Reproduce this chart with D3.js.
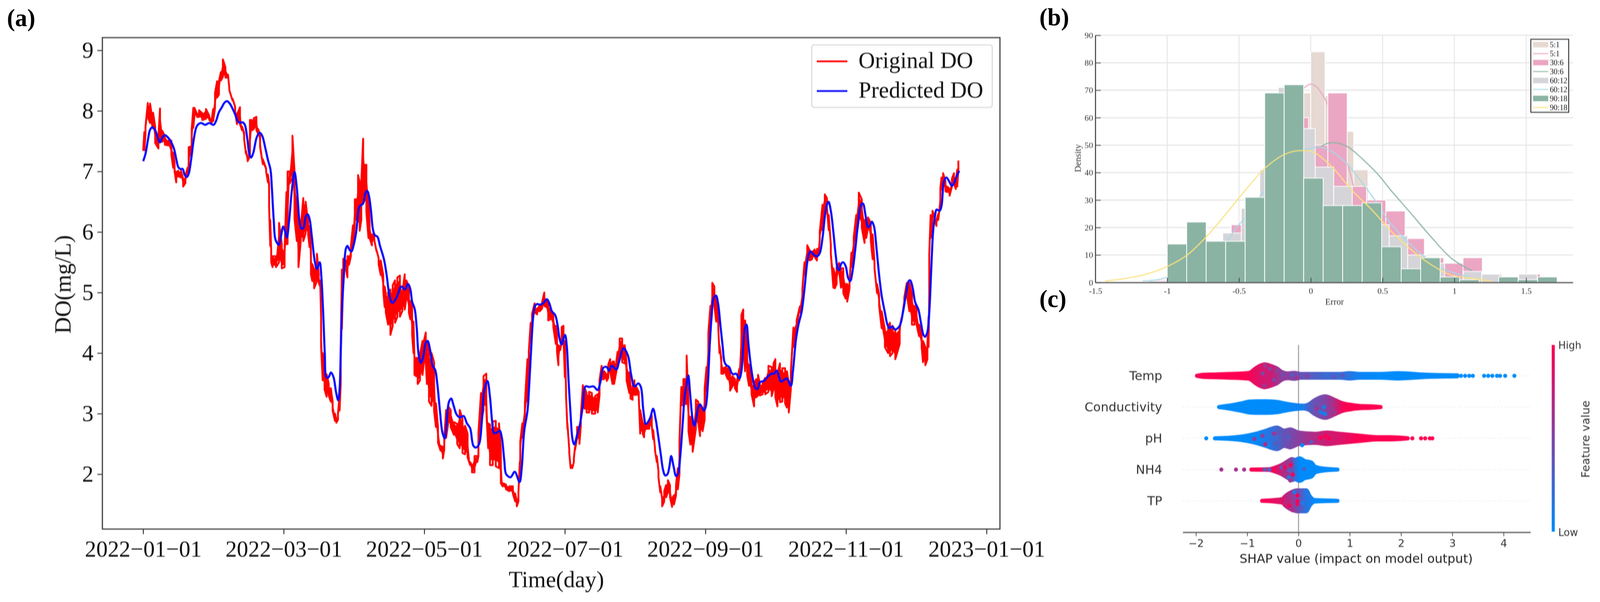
<!DOCTYPE html>
<html>
<head>
<meta charset="utf-8">
<script src="https://cdn.jsdelivr.net/npm/d3@7"></script>
<style>
  html, body { margin: 0; padding: 0; background: #fff; }
  svg { display: block; }
  .soft { filter: blur(0.8px); }
</style>
</head>
<body>
<!-- the photo stops at 4096 px wide, so the 4141 wide drawing is fitted into that -->
<svg id="chart" width="4096" height="1541" viewBox="0 0 4141 1541" preserveAspectRatio="none"></svg>
<script>
// --- Panel (a) data: [day, top of the red band, bottom of the red band] ---
const originalDO = [
  [0,7.34,7.34],[0.5,7.65,7.35],[1,7.74,7.6],[2,8.13,7.9],[3,8.12,7.8],[3.5,7.99,7.82],[4.3,7.97,7.71],[5.2,7.74,7.47],[6.6,7.59,7.38],[7.3,8.04,7.5],
  [8.3,7.67,7.49],[9.4,7.58,7.44],[11,7.51,7.43],[12.2,7.51,7.27],[13,7.31,7.06],[13.6,7.14,7],[14.3,6.99,6.82],[15.2,7.01,6.92],[16.4,7.01,6.9],[17.3,6.88,6.75],
  [18.3,6.93,6.81],[19.2,7.06,6.91],[19.7,7.4,7.06],[20.5,7.41,7.27],[21,7.7,7.3],[21.7,8.05,7.72],[22.2,8.05,7.92],[23.3,7.95,7.9],[24.2,8.01,7.9],[25.6,7.96,7.85],
  [27.2,8.03,7.87],[28.6,7.92,7.85],[29.7,7.87,7.81],[30.3,8.03,7.83],[31.1,8.3,8.05],[32,8.49,8.22],[32.8,8.49,8.27],[33.6,8.64,8.5],[34.5,8.85,8.56],[35.6,8.72,8.55],
  [36.7,8.6,8.55],[37.3,8.37,8.34],[38.7,8.2,8.17],[39.8,8.07,7.98],[40.6,7.94,7.78],[41.9,8.06,7.78],[42.8,7.74,7.68],[43.7,7.64,7.53],[44.5,7.34,7.29],[45.2,7.2,7.17],
  [46.2,7.85,7.25],[47,7.85,7.68],[47.9,7.88,7.7],[49,7.9,7.68],[49.8,7.7,7.62],[50.6,7.59,7.4],[51.8,7.2,7.12],[53.2,7.05,7],[54,6.95,6.82],[54.5,6.8,6.41],
  [55,6.2,5.77],[55.4,5.7,5.5],[56,5.6,5.42],[57.5,5.6,5.42],[58.8,6.15,5.5],[60,5.8,5.4],[61.2,5.7,5.42],[62,6.66,5.8],[62.5,7,5.8],[63.4,7,6.8],
  [64.6,7.59,6.9],[65.5,7,6.22],[66.5,6.58,5.85],[67.2,6.2,5.42],[68.2,6.07,5.85],[69.3,6.56,5.85],[70.3,6.5,5.98],[71.4,6.15,5.96],[72,6.1,5.75],[72.6,5.7,5.3],
  [73.2,5.47,5.19],[74,5.38,5.07],[75.2,5.64,5.19],[76,5.31,5.16],[76.6,5.2,5.1],[77,4.6,4.1],[77.7,4,3.55],[78.5,3.75,3.4],[79.4,3.65,3.28],[80.3,3.5,3.3],
  [81.2,3.42,3.2],[82,3.2,3.05],[83,3,2.88],[83.6,2.9,2.85],[84.3,3,2.9],[85,3.3,3.05],[85.5,4.1,3.5],[86,5.38,4.4],[86.6,5.56,5.3],[87.7,5.53,5.4],
  [88.4,5.6,5.25],[89.1,5.6,5.46],[89.9,5.77,5.6],[90.8,6.11,5.75],[91.6,6.54,6.13],[92.3,6.54,6.2],[93,6.94,6.17],[93.7,6.82,6.02],[94.4,6.82,6.2],[95.2,7.54,6.47],
  [96,7.11,6.54],[96.6,7.11,6.33],[97.5,6.65,5.9],[98,6.13,5.9],[99,5.96,5.78],[100,5.96,5.87],[101,5.7,5.68],[101.9,5.57,5.47],[102.8,5.53,5.29],[103.9,5.29,5.03],
  [104.5,5.1,4.76],[105,4.99,4.67],[106,5,4.47],[107,5.05,4.3],[108,5.12,4.45],[109,5.2,4.5],[110,5.25,4.6],[111.1,5.28,4.6],[112.2,5,4.7],[113.2,5.3,4.72],
  [113.9,5.2,4.9],[115,5.1,4.67],[115.6,4.86,4.56],[116.4,4.8,4.3],[117,4.52,4],[117.4,3.92,3.64],[118.1,3.92,3.62],[118.8,3.92,3.49],[119.8,3.98,3.55],[120.9,4.2,3.64],
  [121.5,4.2,3.85],[122.3,4.34,3.85],[122.8,4.2,3.49],[123.7,4.02,3.2],[124.8,4,3.13],[125.9,3.85,3.05],[126.7,3.17,2.78],[127.6,2.78,2.52],[128.7,2.47,2.39],[129.7,2.45,2.26],
  [130.3,2.58,2.41],[131.1,3.06,2.6],[132,3.12,2.84],[133.1,3.06,2.78],[134.5,2.86,2.65],[135.9,2.83,2.5],[137,3.06,2.43],[138.2,2.91,2.35],[139.3,2.8,2.33],[140.4,2.67,2.28],
  [141.5,2.2,2.15],[142.3,2.15,2.03],[143.4,2.3,2.03],[144.6,2.3,2.2],[145.1,2.69,2.3],[146.2,3.34,2.84],[147.3,3.62,3.06],[148.5,3.66,3.06],[149.3,2.84,2.43],[150.1,2.82,2.15],
  [151.3,2.87,2.15],[152.6,2.88,2.13],[154,2.84,2.1],[154.8,2.4,1.85],[155.6,1.85,1.8],[157,1.83,1.75],[158.5,1.8,1.72],[160,1.8,1.68],[161,1.68,1.55],[161.7,1.55,1.47],
  [162.4,1.7,1.55],[163,2.2,1.9],[163.2,2.54,2.3],[164.1,2.84,2.6],[165.2,3.18,2.9],[166.3,3.9,3.2],[166.9,4.03,3.8],[167.7,4.5,4.2],[168.3,4.65,4.4],[169.4,4.82,4.67],
  [170.5,4.73,4.64],[171.6,4.78,4.69],[172.7,4.85,4.74],[173.6,5,4.78],[174.4,4.88,4.76],[175.3,4.82,4.54],[176.3,4.73,4.56],[177.5,4.63,4.43],[178.6,4.45,4.15],[179.1,4.28,4.02],
  [179.7,4.13,3.8],[180.5,4.1,4.05],[181.1,4.43,4.2],[181.9,4.45,4.24],[182.5,4.2,3.6],[183,3.4,3.3],[183.6,2.84,2.75],[184.4,2.41,2.35],[185,2.15,2.1],[185.7,2.14,2.1],
  [186.4,2.26,2.2],[186.9,2.45,2.4],[187.8,2.78,2.6],[188.8,2.78,2.5],[189.4,2.97,2.8],[190.3,3.47,3.12],[191.1,3.42,3.08],[191.9,3.34,3.02],[193,3.36,3.02],[194.2,3.34,3],
  [195.6,3.29,3],[196.7,3.32,3.02],[197.5,3.55,3.3],[198.4,3.79,3.57],[199.5,3.7,3.57],[200.6,3.64,3.54],[201.3,3.81,3.59],[202.1,3.9,3.7],[203.1,3.86,3.49],[203.8,3.86,3.49],
  [204.8,3.87,3.7],[205.3,4.02,3.77],[206.2,4.24,4],[207.3,4.24,3.85],[208.4,4.13,3.83],[209.2,3.85,3.55],[210.4,3.68,3.34],[210.9,3.46,3.25],[211.8,3.46,3.23],[212.6,3.55,3.31],
  [213.4,3.44,3.31],[214.5,3.36,3.25],[215.1,3.06,2.67],[216.2,2.84,2.67],[216.8,2.84,2.61],[217.9,2.82,2.75],[219,2.88,2.75],[220.1,2.97,2.8],[220.7,2.73,2.58],[221.5,2.43,2.39],
  [222.3,2.3,2.2],[223,2.05,1.95],[223.8,1.8,1.7],[224.6,1.6,1.47],[225.5,1.72,1.55],[226.3,1.82,1.62],[227.1,1.9,1.7],[228,1.82,1.62],[228.9,1.6,1.46],[229.7,1.65,1.5],
  [230.6,1.82,1.65],[231.4,2.1,1.75],[232.1,2.56,2],[232.9,3.44,3.14],[233.8,3.57,3.14],[234.6,3.57,3.16],[235.2,3.96,3.16],[236,3.16,2.71],[236.8,2.95,2.49],[237.8,2.75,2.37],
  [239.2,3.23,2.75],[240.2,3.2,2.86],[241,3.16,2.63],[242.1,3.01,2.71],[243,3.42,2.9],[243.8,3.77,3.38],[244.6,4.34,3.92],[245.5,4.78,4.34],[246.3,5.16,4.78],[247.2,5.1,4.78],
  [248,4.93,4.52],[248.9,4.56,4.41],[249.4,4.13,4],[250.2,3.92,3.66],[251.1,3.75,3.66],[252.2,3.77,3.64],[253,3.75,3.57],[254,3.66,3.38],[255,3.62,3.45],[256.1,3.57,3.42],
  [257,3.55,3.36],[258,3.74,3.55],[258.9,4.63,4.13],[259.7,4.72,4.17],[260.5,4.54,3.7],[261.4,4.09,3.64],[262.2,3.81,3.46],[263.3,3.53,3.32],[264.4,3.49,3.12],[265.3,3.57,3.27],
  [266.1,3.64,3.3],[266.9,3.49,3.3],[268.1,3.51,3.32],[269.2,3.59,3.32],[270.6,3.79,3.36],[272,3.77,3.29],[272.8,3.83,3.4],[273.6,3.9,3.27],[274.5,3.66,3.12],[275.6,3.83,3.19],
  [276.6,3.75,3.2],[277.8,3.75,3.17],[278.6,3.7,3.1],[279.4,3.5,3.02],[280.3,3.7,3.4],[281.4,4.42,4.1],[282.8,4.54,4.3],[284.2,4.77,4.67],[285.3,5.07,4.9],[286.2,5.5,5.29],
  [287.4,5.78,5.57],[288.4,5.7,5.53],[289.5,5.66,5.55],[290.6,5.71,5.59],[291.6,5.72,5.53],[292.3,5.72,5.64],[292.8,6,5.87],[294,6.45,6.03],[295,6.62,6.45],[295.9,6.56,6.41],
  [296.7,6.28,6.03],[297.6,5.79,5.64],[298.7,5.4,5.08],[299.3,5.31,5.07],[300.1,5.42,5.14],[301.2,5.49,5.36],[302,5.4,5.08],[303,5.4,4.99],[304,5.14,4.9],[304.7,5.14,4.85],
  [305.7,5.17,5.07],[306.5,5.66,5.42],[307.5,5.91,5.68],[308.6,6.28,5.92],[309.7,6.65,6.2],[311,6.54,6.07],[312.2,6.2,5.82],[312.9,6.07,5.9],[313.7,6.24,6.07],[314.9,6.15,5.85],
  [315.7,5.96,5.55],[316.5,5.51,5.4],[317.6,5.14,4.99],[318.5,4.97,4.78],[319.6,4.69,4.41],[321,4.39,4.1],[322.4,4.43,4.0],[323.2,4.5,3.95],[324.3,4.45,4.0],[325.5,4.37,3.9],
  [327.4,4.43,4.15],[328.2,4.58,4.54],[329.4,4.92,4.85],[330.5,5.16,4.97],[331.6,5.16,4.69],[332.7,4.97,4.47],[333.8,4.78,4.47],[334.7,4.73,4.47],[335.8,4.47,4.28],[336.9,4.35,4.1],
  [337.5,4.2,3.85],[338.5,4.1,3.8],[339.4,4.15,3.9],[339.9,4.6,4.1],[340.2,5.64,5],[340.8,6.28,5.9],[341.6,6.35,6.24],[342.6,6.24,6.2],[343.3,6.19,6.1],[344.1,6.3,6.2],
  [345,6.72,6.5],[345.5,6.9,6.7],[346.2,6.97,6.77],[347.2,6.84,6.67],[348,6.75,6.66],[349,6.71,6.6],[350,6.88,6.75],[350.9,6.97,6.8],[351.7,6.82,6.71],[352.3,7.03,6.75],
  [352.8,7.18,7.03]
];

const predictedDO = [
  [0,7.17],[1,7.29],[2.1,7.53],[3,7.69],[4,7.73],[5.2,7.68],[6.3,7.56],[7.3,7.48],[8.3,7.56],[9.4,7.6],[10.5,7.57],[11.9,7.5],[13.3,7.38],[14.4,7.19],[15.2,7.07],[16.1,7.04],
  [17.1,7.04],[18,6.94],[18.9,6.91],[19.7,6.96],[20.8,7.21],[21.9,7.53],[23,7.73],[23.9,7.78],[25.1,7.8],[26.8,7.77],[28.6,7.8],[30.5,7.77],[31.5,7.83],[32.8,7.98],[33.9,8.05],
  [35.3,8.14],[36.3,8.16],[37.5,8.12],[39.5,7.97],[41.4,7.81],[43.1,7.81],[44,7.77],[45.1,7.53],[45.9,7.3],[46.7,7.23],[47.6,7.3],[49.2,7.57],[50.4,7.64],[51.5,7.59],[52.9,7.38],
  [54,7.19],[55.1,7.03],[55.7,6.73],[56.5,6.2],[57.3,5.87],[58.7,5.79],[59.6,5.92],[60.6,6.09],[61.5,6],[62.2,5.91],[63.2,6.2],[64.3,6.67],[65.5,6.99],[66.5,6.73],[67.6,6.2],
  [68.4,6.06],[69.3,6.06],[70.4,6.26],[71.2,6.29],[72.1,6.2],[72.9,5.96],[74.3,5.51],[75.2,5.39],[76.4,5.5],[77.1,5.27],[77.9,4.67],[78.6,4],[79.3,3.6],[80.2,3.6],[81.3,3.68],
  [82.4,3.6],[83.5,3.35],[84.4,3.22],[85,3.4],[85.5,4],[86,4.67],[86.9,5.31],[87.7,5.72],[88.4,5.77],[89.4,5.7],[90.2,5.68],[91,5.77],[92.2,6],[93.3,6.39],[93.8,6.43],[95.2,6.47],
  [96.1,6.63],[96.9,6.68],[97.7,6.6],[98.6,6.35],[99.4,6.05],[100.2,5.95],[101.4,5.92],[102.5,5.77],[104.2,5.55],[105.3,5.31],[106.7,4.93],[107.8,4.83],[109.7,4.92],[111.7,5.1],
  [113.3,5.05],[114.6,5.14],[115.6,5.06],[116.4,4.85],[117.5,4.73],[118.4,4.41],[119.2,3.98],[120.2,3.84],[121.2,3.94],[122.3,4.17],[123.1,4.2],[124.2,4.05],[125.3,3.79],[126.4,3.72],
  [127.3,3.49],[128.4,3.06],[129.5,2.69],[130.5,2.59],[131.2,2.78],[132.3,3.19],[133.3,3.25],[134.3,3.14],[135.6,2.99],[137,2.94],[138.7,2.96],[140.1,2.84],[141.5,2.76],[142.9,2.47],
  [144,2.44],[145.4,2.5],[146.5,2.84],[147.6,3.38],[149,3.54],[150.1,3.27],[151,2.88],[151.8,2.68],[153.2,2.69],[154.3,2.72],[155.2,2.61],[156.3,2.22],[157.1,2],[159,1.95],[160.8,2.04],
  [162.9,1.87],[163.8,2.09],[164.9,2.71],[166.3,3.04],[167.1,3.49],[168,4.13],[168.8,4.6],[169.6,4.78],[170.5,4.81],[171.6,4.8],[173.3,4.83],[174.7,4.89],[175.8,4.82],[176.9,4.69],
  [178.3,4.63],[179.4,4.45],[180.2,4.24],[181.1,4.14],[181.9,4.24],[182.6,4.3],[183.3,4.13],[184.1,3.55],[185,2.97],[185.8,2.58],[186.6,2.49],[187.8,2.65],[188.9,2.8],[190.3,3.14],
  [191.4,3.45],[193.1,3.44],[194.9,3.45],[196.7,3.39],[197.8,3.51],[199.2,3.76],[200.6,3.77],[201.6,3.71],[202.8,3.79],[204.8,3.73],[205.9,3.85],[207.9,4.08],[209.8,3.96],[211.2,3.64],
  [212.6,3.45],[214.3,3.5],[215.4,3.44],[216.5,3.04],[217.6,2.83],[219.3,2.92],[220.7,3.08],[221.8,2.91],[222.9,2.63],[224,2.33],[225,2.07],[225.9,1.98],[226.9,2.0],[227.8,2.14],[228.5,2.3],
  [229.6,2.12],[230.6,1.97],[231.6,2.02],[232.4,2.28],[233.5,2.84],[234.3,3.27],[235.2,3.49],[235.9,3.63],[236.8,3.29],[237.7,2.93],[238.5,2.8],[239.3,2.91],[240.2,3.1],[241,3.15],[241.9,3.1],
  [242.7,3.05],[243.5,3.12],[244.4,3.49],[245.2,4.13],[246,4.6],[246.9,4.91],[247.9,4.95],[248.8,4.82],[249.9,4.43],[250.8,4.11],[251.6,3.85],[252.4,3.8],[253.6,3.77],[254.7,3.67],[255.5,3.65],
  [256.6,3.66],[258,3.58],[258.9,3.7],[259.7,4.13],[260.5,4.43],[261.1,4.47],[261.9,4.17],[262.8,3.85],[263.9,3.57],[265,3.42],[265.9,3.41],[266.9,3.52],[268.6,3.54],[270.3,3.61],[272,3.66],
  [273,3.66],[274.2,3.71],[275.3,3.59],[276.1,3.53],[278.6,3.58],[280.3,3.46],[281.2,3.7],[282.5,4.22],[283.6,4.47],[285,4.69],[286.2,5.06],[287.3,5.47],[288.1,5.64],[288.9,5.68],[290.3,5.62],
  [291.7,5.6],[292.8,5.65],[294,5.9],[295.1,6.28],[295.9,6.45],[296.6,6.5],[297.6,6.35],[298.7,6],[299.8,5.59],[300.6,5.39],[301.2,5.37],[302,5.47],[302.9,5.5],[304,5.44],[305.1,5.24],[306,5.19],
  [307.1,5.38],[308.2,5.72],[309.3,6.11],[310.7,6.45],[311.5,6.47],[312.6,6.28],[313.7,6.08],[314.6,6.11],[315.4,6.17],[316.3,6.09],[317.4,5.72],[318.5,5.29],[319.6,4.95],[321,4.67],[322.1,4.47],
  [323,4.41],[324.1,4.44],[325.5,4.39],[327.4,4.45],[328.8,4.67],[330.2,4.99],[331.3,5.19],[332,5.2],[333,5.08],[334.1,4.84],[335.5,4.72],[336.6,4.5],[337.7,4.3],[338.4,4.27],[339.4,4.35],[340.2,4.67],
  [341.1,5.42],[341.9,6.03],[342.6,6.24],[343.4,6.37],[344.7,6.35],[345.5,6.43],[346.6,6.84],[347.6,6.9],[348.9,6.83],[350,6.76],[351.1,6.82],[351.9,6.91],[353.2,7.01]
];

const dateTickDays = [0, 60.83, 121.67, 182.5, 243.33, 304.17, 365];
const dateTickLabels = ["2022\u221201\u221201", "2022\u221203\u221201", "2022\u221205\u221201", "2022\u221207\u221201", "2022\u221209\u221201", "2022\u221211\u221201", "2023\u221201\u221201"];
const doTicks = [2, 3, 4, 5, 6, 7, 8, 9];
const lineLegend = ["Original DO", "Predicted DO"];

// --- Panel (b) data ---
const greenStart = -1, greenStep = 0.1358;
const greenCounts = [14, 22, 15, 15, 31, 69, 72, 38, 28, 28, 29, 13, 5, 9, 2, 1, 0, 2, 1, 2];
const grayStart = -1.128, grayStep = 0.1288;
const grayCounts = [0.6, 3, 10, 8, 18, 27, 41, 71, 56, 42, 35, 25, 21, 17, 10, 7, 1, 4, 3, 0, 3];
const pinkStart = -1.0916, pinkStep = 0.1345;
const pinkCounts = [1, 5, 10, 12, 21, 25, 40, 60, 50, 69, 35, 30, 26, 16, 9, 7, 9, 3, 0, 3];
const beigeStart = -0.1, beigeStep = 0.0997;
const beigeCounts = [69, 84, 68, 55, 41];

const curve5x = [-0.1, -0.043, -0.002, 0.038, 0.083, 0.123, 0.2, 0.267, 0.298];
const curve5y = [68, 71, 72.2, 71.3, 68.2, 64.2, 52, 41.2, 35];
const curve30x = [0.069, 0.11, 0.155, 0.244, 0.308, 0.379, 0.469, 0.559, 0.695, 0.831, 0.979, 1.128];
const curve30y = [49.5, 50.5, 50.9, 49.8, 47.4, 44, 39.3, 33.5, 25.3, 17, 8.8, 4.1];
const curve60x = [-1.17, -1.02, -0.59, -0.519, -0.46, -0.352, -0.322, -0.047, 0.001, 0.065, 0.155, 0.244, 0.335, 0.397, 0.456, 0.559, 0.794, 0.905, 1.103];
const curve60y = [0.6, 1.6, 15.1, 19.9, 23.5, 31.5, 33.4, 48, 48.9, 49.3, 47.4, 43.6, 37.9, 33.6, 29.3, 21.3, 9.2, 5.2, 2];
const curve90x = [-1.432, -1.296, -1.147, -1, -0.863, -0.73, -0.593, -0.457, -0.321, -0.185, -0.084, 0.015, 0.151, 0.287, 0.423, 0.559, 0.695, 0.831, 0.979, 1.103, 1.256];
const curve90y = [0.5, 1.4, 3, 5.8, 9.9, 16.5, 24.8, 33.5, 41.5, 46.6, 48, 47.5, 41.9, 33.5, 26.6, 18.7, 12.1, 6.7, 2.7, 1.6, 0.5];

const errorTicks = [-1.5, -1, -0.5, 0, 0.5, 1, 1.5];
const errorLabels = ["-1.5", "-1", "-0.5", "0", "0.5", "1", "1.5"];
const densityTicks = [0, 10, 20, 30, 40, 50, 60, 70, 80, 90];
const histLegend = ["5:1", "5:1", "30:6", "30:6", "60:12", "60:12", "90:18", "90:18"];

// --- Panel (c) data: SHAP value, half thickness of the swarm (share of a row), feature mix (0 low, 1 high) ---
const features = ["Temp", "Conductivity", "pH", "NH4", "TP"];
const shapTicks = [-2, -1, 0, 1, 2, 3, 4];

const tempShap = [-1.98, -1.84, -1.59, -1.34, -1.09, -0.96, -0.83, -0.73, -0.66, -0.53, -0.41, -0.33, -0.21, -0.08, 0.05, 0.4, 0.8, 1, 1.2, 1.58, 1.95, 2.5, 3.1];
const tempSpread = [0.06, 0.1, 0.11, 0.125, 0.14, 0.16, 0.31, 0.4, 0.43, 0.375, 0.29, 0.19, 0.14, 0.16, 0.125, 0.125, 0.125, 0.15, 0.125, 0.125, 0.15, 0.1, 0.08];
const tempMix = [1, 1, 1, 1, 1, 0.97, 0.9, 0.85, 0.82, 0.8, 0.65, 0.55, 0.55, 0.5, 0.4, 0.28, 0.22, 0.15, 0.05, 0, 0, 0, 0];

const condShap = [-1.55, -1.3, -1.1, -0.95, -0.8, -0.62, -0.4, -0.25, -0.05, 0.1, 0.2, 0.32, 0.52, 0.7, 0.85, 1, 1.2, 1.4, 1.6];
const condSpread = [0.06, 0.125, 0.19, 0.24, 0.25, 0.25, 0.225, 0.175, 0.125, 0.11, 0.15, 0.29, 0.41, 0.3, 0.19, 0.14, 0.1, 0.09, 0.06];
const condMix = [0, 0, 0, 0, 0, 0, 0, 0, 0.05, 0.1, 0.3, 0.42, 0.5, 0.7, 0.95, 1, 1, 1, 1];

const phShap = [-1.63, -1.34, -1.09, -0.83, -0.63, -0.42, -0.28, -0.16, 0, 0.32, 0.55, 0.8, 1.18, 1.55, 1.8, 2.13];
const phSpread = [0.06, 0.085, 0.125, 0.21, 0.31, 0.41, 0.31, 0.35, 0.25, 0.21, 0.25, 0.21, 0.15, 0.1, 0.1, 0.06];
const phMix = [0, 0, 0, 0.02, 0.12, 0.25, 0.4, 0.45, 0.55, 0.7, 0.8, 0.85, 1, 1, 1, 1];

const nh4Shap = [-0.92, -0.58, -0.46, -0.33, -0.2, -0.13, -0.07, 0.02, 0.12, 0.25, 0.32, 0.47, 0.76];
const nh4Spread = [0.06, 0.075, 0.125, 0.21, 0.34, 0.4, 0.375, 0.425, 0.34, 0.29, 0.16, 0.1, 0.06];
const nh4Mix = [1, 0.85, 0.9, 0.75, 0.6, 0.5, 0.2, 0, 0, 0, 0, 0, 0];

const tpShap = [-0.71, -0.46, -0.31, -0.26, -0.13, -0.02, 0.15, 0.22, 0.31, 0.76];
const tpSpread = [0.06, 0.09, 0.125, 0.21, 0.35, 0.4, 0.4, 0.21, 0.09, 0.06];
const tpMix = [1, 0.9, 0.85, 0.75, 0.6, 0.45, 0.15, 0.1, 0, 0];

// single dots that stand out of the swarm: feature index, SHAP value, offset (share of a row), mix
const swarmDots = [
  [0,3.17,0,0],[0,3.25,0,0],[0,3.33,0,0],[0,3.4,0,0],[0,3.62,0,0],[0,3.7,0,0],[0,3.78,0,0],[0,3.87,0,0],[0,3.93,0,0],[0,4.03,0,0],[0,4.21,0,0],
  [0,-0.65,-0.325,0.6],[0,-0.56,-0.22,0.55],[0,-0.7,-0.075,0.5],[0,-0.48,0.13,0.5],[0,-0.42,-0.16,0.55],[0,-0.67,0.32,0.6],[0,-0.31,-0.03,0.45],[0,-0.12,-0.03,0.35],[0,-0.03,0.07,0.65],[0,0.17,0.01,0.55],[0,0.55,-0.01,0.2],[0,0.7,0.03,0.4],[0,0.87,-0.01,0.4],
  [1,0.42,0.15,0.2],[1,0.5,0,0.1],[1,0.52,0.22,0.1],[1,0.65,0.05,0.6],[1,0.46,0.18,0.1],[1,0.35,0.05,0.6],[1,0.7,0.17,0.6],
  [2,-1.8,0,0],[2,2.22,0,1],[2,2.39,0,1],[2,2.47,0,1],[2,2.56,0,1],[2,2.61,0,1],
  [2,-0.86,0.02,0.6],[2,-0.7,-0.08,0.6],[2,-0.48,-0.15,0.65],[2,-0.41,-0.17,0.4],[2,-0.44,0.15,0.35],[2,-0.58,0.23,0.05],[2,-0.65,0.19,0.75],[2,-0.17,0.29,0.5],[2,0.07,0.22,0],[2,0.25,0.12,0.35],[2,0.43,-0.02,1],[2,0.52,-0.08,1],[2,0.59,0,1],[2,-0.2,-0.04,0.3],
  [3,-1.505,0,0.65],[3,-1.22,0,0.65],[3,-1.06,0,0.65],[3,-0.33,-0.07,0.35],[3,-0.27,-0.07,1],[3,-0.15,-0.15,1],[3,-0.11,0.16,1],[3,-0.19,0.25,0.1],[3,-0.18,0.02,0.3],[3,-0.16,0.35,0.6],[3,0.11,-0.02,0.3],[3,-0.66,0,0.4],[3,-0.57,0,0.3],[3,-0.48,0,1],[3,-0.78,0,1],[3,-0.91,0,1],
  [4,-0.02,-0.17,1],[4,-0.02,0.01,1],[4,-0.18,0.15,1],[4,-0.12,0.3,0.7],[4,-0.02,0.11,0.9],[4,-0.19,0,0.75],[4,0.08,0.07,0.1],[4,-0.08,-0.28,0.1]
];

const svg = d3.select("#chart");
const serif = "'Liberation Serif', 'Times New Roman', serif";
const sans = "'DejaVu Sans', sans-serif";

function panelLetter(text, x, y) {
    svg.append("text").attr("x", x).attr("y", y)
        .attr("font-family", serif).attr("font-weight", "bold").attr("font-size", 63)
        .text(text);
}
panelLetter("(a)", 18, 67);
panelLetter("(b)", 2690, 65);
panelLetter("(c)", 2690, 786);

// --- Panel (a): time series ---
const gA = svg.append("g").attr("class", "soft");
const xA = d3.scaleLinear().domain([-17.64, 370.8]).range([265, 2588]);
const yA = d3.scaleLinear().domain([1.094, 9.21]).range([1354.3, 96.3]);

// solid core of the noisy band, the line itself runs over it from top to bottom
const redCore = d3.area()
    .x(d => xA(d[0]))
    .y0(d => yA(d[2] + (d[1] - d[2]) * 0.12))
    .y1(d => yA(d[1] - (d[1] - d[2]) * 0.12));

gA.append("path").datum(originalDO)
    .attr("d", redCore)
    .attr("fill", "#ff0000");

const redPoints = originalDO.flatMap((d, i) => i % 2 ? [[d[0], d[1]], [d[0], d[2]]] : [[d[0], d[2]], [d[0], d[1]]]);

gA.append("path").datum(redPoints)
    .attr("d", d3.line().x(d => xA(d[0])).y(d => yA(d[1])))
    .attr("fill", "none")
    .attr("stroke", "#ff0000")
    .attr("stroke-width", 4.8)
    .attr("stroke-linejoin", "round");

const blueLine = d3.line()
    .x(d => xA(d[0]))
    .y(d => yA(d[1]))
    .curve(d3.curveCatmullRom.alpha(0.5));

gA.append("path").datum(predictedDO)
    .attr("d", blueLine)
    .attr("fill", "none")
    .attr("stroke", "#0a0aff")
    .attr("stroke-width", 5.4);

gA.append("rect")
    .attr("x", 265).attr("y", 96.3).attr("width", 2323).attr("height", 1258)
    .attr("fill", "none").attr("stroke", "#333").attr("stroke-width", 2.8);

const axisA = gA.append("g").attr("transform", "translate(0,1354.3)")
    .call(d3.axisBottom(xA).tickValues(dateTickDays).tickFormat((d, i) => dateTickLabels[i]).tickSize(13).tickPadding(16));
const axisAY = gA.append("g").attr("transform", "translate(265,0)")
    .call(d3.axisLeft(yA).tickValues(doTicks).tickFormat(d3.format("d")).tickSize(13).tickPadding(10));
[axisA, axisAY].forEach(a => {
    a.select(".domain").remove();
    a.selectAll("line").attr("stroke", "#333").attr("stroke-width", 2.5);
    a.selectAll("text").attr("font-family", serif).attr("font-size", 59).attr("fill", "#111");
});

gA.append("text").attr("transform", "translate(183,728) rotate(-90)")
    .attr("text-anchor", "middle").attr("font-family", serif).attr("font-size", 59).attr("fill", "#111")
    .text("DO(mg/L)");
gA.append("text").attr("x", 1440).attr("y", 1503)
    .attr("text-anchor", "middle").attr("font-family", serif).attr("font-size", 59).attr("fill", "#111")
    .text("Time(day)");

const legA = gA.append("g");
legA.append("rect").attr("x", 2101).attr("y", 115).attr("width", 467).attr("height", 160).attr("rx", 6)
    .attr("fill", "#fff").attr("stroke", "#d6d6d6").attr("stroke-width", 2.5);
lineLegend.forEach((name, i) => {
    const ly = 157 + i * 76;
    legA.append("line").attr("x1", 2114).attr("x2", 2193).attr("y1", ly).attr("y2", ly)
        .attr("stroke", i ? "#0a0aff" : "#ff0000").attr("stroke-width", 4.5);
    legA.append("text").attr("x", 2222).attr("y", ly + 17)
        .attr("font-family", serif).attr("font-size", 59).attr("fill", "#111").text(name);
});

// --- Panel (b): error histogram ---
const gB = svg.append("g").attr("class", "soft");
const xB = d3.scaleLinear().domain([-1.5, 1.826]).range([2835, 4071]);
const yB = d3.scaleLinear().domain([0, 90]).range([723, 90.3]);

gB.append("g").selectAll("line").data(densityTicks.slice(1)).enter().append("line")
    .attr("x1", 2835).attr("x2", 4071).attr("y1", d => yB(d)).attr("y2", d => yB(d))
    .attr("stroke", "#e4e4e4").attr("stroke-width", 2.6);
gB.append("g").selectAll("line").data(errorTicks.slice(1)).enter().append("line")
    .attr("x1", d => xB(d)).attr("x2", d => xB(d)).attr("y1", 90.3).attr("y2", 723)
    .attr("stroke", "#e2e2e2").attr("stroke-width", 2);

function drawBars(start, step, counts, color) {
    gB.append("g").selectAll("rect").data(counts).enter().append("rect")
        .attr("x", (d, i) => xB(start + i * step))
        .attr("y", d => yB(d))
        .attr("width", xB(step) - xB(0))
        .attr("height", d => yB(0) - yB(d))
        .attr("fill", color)
        .attr("stroke", d => d ? "#fff" : "none")
        .attr("stroke-width", 2);
}

function drawCurve(xs, ys, color) {
    const pts = xs.map((x, i) => [x, ys[i]]);
    gB.append("path").datum(pts)
        .attr("d", d3.line().x(d => xB(d[0])).y(d => yB(d[1])).curve(d3.curveCatmullRom.alpha(0.5)))
        .attr("fill", "none").attr("stroke", color).attr("stroke-width", 2.8);
}

const beigeColor = "#e6d8d2", pinkColor = "#eba6c3", grayColor = "#d5d5d9", greenColor = "#8ab3a3";
const curvePink = "#eba6c3", curveGreen = "#8ab3a3", curveBlue = "#a8d9e5", curveYellow = "#fbe27c";

drawBars(beigeStart, beigeStep, beigeCounts, beigeColor);
drawCurve(curve5x, curve5y, curvePink);
drawBars(pinkStart, pinkStep, pinkCounts, pinkColor);
drawCurve(curve30x, curve30y, curveGreen);
drawBars(grayStart, grayStep, grayCounts, grayColor);
drawCurve(curve60x, curve60y, curveBlue);
drawBars(greenStart, greenStep, greenCounts, greenColor);
drawCurve(curve90x, curve90y, curveYellow);

const axisB = gB.append("g").attr("transform", "translate(0,723)")
    .call(d3.axisBottom(xB).tickValues(errorTicks).tickFormat((d, i) => errorLabels[i]).tickSizeInner(-12).tickSizeOuter(0).tickPadding(13));
const axisBY = gB.append("g").attr("transform", "translate(2835,0)")
    .call(d3.axisLeft(yB).tickValues(densityTicks).tickSizeInner(-14).tickSizeOuter(0).tickPadding(6));
[axisB, axisBY].forEach(a => {
    a.select(".domain").attr("stroke", "#555").attr("stroke-width", 3);
    a.selectAll("line").attr("stroke", "#445").attr("stroke-width", 2);
    a.selectAll("text").attr("font-family", serif).attr("font-size", 22).attr("fill", "#333");
});

gB.append("text").attr("x", 3454).attr("y", 780).attr("text-anchor", "middle")
    .attr("font-family", serif).attr("font-size", 23).attr("fill", "#333").text("Error");
gB.append("text").attr("transform", "translate(2797,405) rotate(-90)").attr("text-anchor", "middle")
    .attr("font-family", serif).attr("font-size", 23).attr("fill", "#333").text("Density");

const legB = gB.append("g");
legB.append("rect").attr("x", 3962).attr("y", 100.5).attr("width", 98).attr("height", 187)
    .attr("fill", "#fff").attr("stroke", "#222").attr("stroke-width", 2.2);
const histSwatches = [beigeColor, curvePink, pinkColor, curveGreen, grayColor, curveBlue, greenColor, curveYellow];
histLegend.forEach((name, i) => {
    const ly = 114.3 + i * 22.95;
    if (i % 2 === 0) {
        legB.append("rect").attr("x", 3968).attr("y", ly - 7).attr("width", 39).attr("height", 14).attr("fill", histSwatches[i]);
    } else {
        legB.append("line").attr("x1", 3968).attr("x2", 4007).attr("y1", ly).attr("y2", ly)
            .attr("stroke", histSwatches[i]).attr("stroke-width", 2.4);
    }
    legB.append("text").attr("x", 4011).attr("y", ly + 7)
        .attr("font-family", serif).attr("font-size", 20).attr("fill", "#222").text(name);
});

// --- Panel (c): SHAP summary ---
const gC = svg.append("g").attr("class", "soft");
const xC = d3.scaleLinear().domain([-2.258, 4.524]).range([3061, 3961]);
const yC = d3.scalePoint().domain(features).range([962, 1282]);
const rowSize = yC.step();
const lowColor = "#008bfb", highColor = "#ff0051";
const mixColor = d3.interpolateRgb(lowColor, highColor);
const defs = svg.append("defs");

features.forEach(f => {
    gC.append("line").attr("x1", 3061).attr("x2", 3961).attr("y1", yC(f)).attr("y2", yC(f))
        .attr("stroke", "#e6e6e6").attr("stroke-width", 2.5).attr("stroke-dasharray", "2 6");
});
gC.append("line").attr("x1", xC(0)).attr("x2", xC(0)).attr("y1", 883).attr("y2", 1362)
    .attr("stroke", "#999").attr("stroke-width", 2.5);

const swarms = [
    [tempShap, tempSpread, tempMix],
    [condShap, condSpread, condMix],
    [phShap, phSpread, phMix],
    [nh4Shap, nh4Spread, nh4Mix],
    [tpShap, tpSpread, tpMix]
];
const dotRadius = 5.3;

swarms.forEach(([shap, spread, mix], k) => {
    const id = "swarm" + k;
    const x0 = xC(shap[0]), x1 = xC(shap[shap.length - 1]);
    const grad = defs.append("linearGradient").attr("id", id)
        .attr("gradientUnits", "userSpaceOnUse").attr("x1", x0).attr("x2", x1).attr("y1", 0).attr("y2", 0);
    shap.forEach((s, i) => {
        grad.append("stop").attr("offset", (xC(s) - x0) / (x1 - x0)).attr("stop-color", mixColor(mix[i]));
    });
    const pts = shap.map((s, i) => [s, spread[i]]);
    const band = d3.area()
        .x(d => xC(d[0]))
        .y0(d => yC(features[k]) + Math.max(d[1] * rowSize - dotRadius, 0))
        .y1(d => yC(features[k]) - Math.max(d[1] * rowSize - dotRadius, 0))
        .curve(d3.curveMonotoneX);
    gC.append("path").datum(pts).attr("d", band)
        .attr("fill", `url(#${id})`).attr("stroke", `url(#${id})`)
        .attr("stroke-width", dotRadius * 2).attr("stroke-linejoin", "round");
});

gC.append("g").selectAll("circle").data(swarmDots).enter().append("circle")
    .attr("cx", d => xC(d[1]))
    .attr("cy", d => yC(features[d[0]]) + d[2] * rowSize)
    .attr("r", dotRadius)
    .attr("fill", d => mixColor(d[3]));

const axisC = gC.append("g").attr("transform", "translate(0,1362.5)")
    .call(d3.axisBottom(xC).tickValues(shapTicks).tickFormat(d3.format("d")).tickSize(10).tickSizeOuter(0).tickPadding(8));
axisC.select(".domain").attr("stroke", "#555").attr("stroke-width", 2.8);
axisC.selectAll("line").attr("stroke", "#555").attr("stroke-width", 2);
axisC.selectAll("text").attr("font-family", sans).attr("font-size", 27).attr("fill", "#333");

const axisCY = gC.append("g").attr("transform", "translate(3008,0)")
    .call(d3.axisLeft(yC).tickSize(0).tickPadding(0));
axisCY.select(".domain").remove();
axisCY.selectAll("text").attr("font-family", sans).attr("font-size", 32).attr("fill", "#333");

gC.append("text").attr("x", 3510).attr("y", 1441).attr("text-anchor", "middle")
    .attr("font-family", sans).attr("font-size", 32).attr("fill", "#222")
    .text("SHAP value (impact on model output)");

// colour bar
const barGrad = defs.append("linearGradient").attr("id", "shapBar")
    .attr("x1", 0).attr("x2", 0).attr("y1", 1).attr("y2", 0);
barGrad.append("stop").attr("offset", 0).attr("stop-color", lowColor);
barGrad.append("stop").attr("offset", 1).attr("stop-color", highColor);
gC.append("rect").attr("x", 4016).attr("y", 883).attr("width", 8).attr("height", 478).attr("fill", "url(#shapBar)");
gC.append("text").attr("x", 4033).attr("y", 893).attr("font-family", sans).attr("font-size", 26).attr("fill", "#333").text("High");
gC.append("text").attr("x", 4033).attr("y", 1372).attr("font-family", sans).attr("font-size", 26).attr("fill", "#333").text("Low");
gC.append("text").attr("transform", "translate(4114,1124) rotate(-90)").attr("text-anchor", "middle")
    .attr("font-family", sans).attr("font-size", 29).attr("fill", "#333").text("Feature value");
</script>
</body>
</html>
